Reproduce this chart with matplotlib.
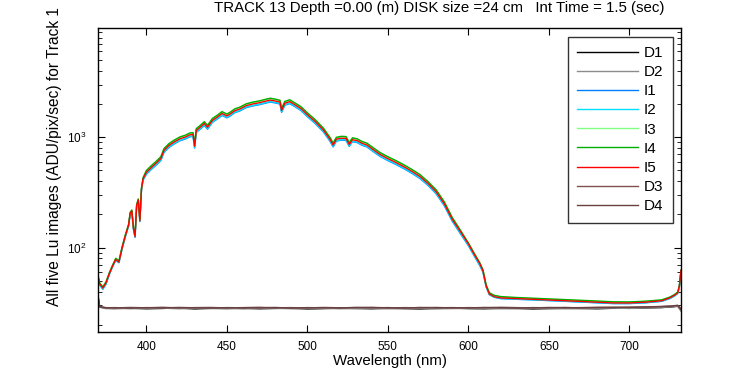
import matplotlib
matplotlib.use("Agg")
import matplotlib.pyplot as plt
from matplotlib.ticker import NullFormatter

plt.rcParams['font.family'] = ['Liberation Sans', 'DejaVu Sans']
plt.rcParams['mathtext.fontset'] = 'custom'
plt.rcParams['mathtext.rm'] = 'Liberation Sans'

title = "TRACK 13 Depth =0.00 (m) DISK size =24 cm   Int Time = 1.5 (sec)"
xlabel = "Wavelength (nm)"
ylabel = "All five Lu images (ADU/pix/sec) for Track 1"
xticks = [400, 450, 500, 550, 600, 650, 700]

wl = [370, 371, 373, 375, 377, 379, 381, 383, 385, 387,
      389, 390, 391, 392, 393, 394, 395, 396, 397, 398,
      400, 403, 406, 409, 411, 414, 417, 421, 424, 427,
      429, 430, 431, 434, 436, 438, 441, 444, 447, 450,
      452, 455, 458, 462, 466, 470, 474, 477, 480, 483,
      484, 486, 489, 492, 496, 500, 505, 510, 514, 516,
      518, 521, 524, 526, 528, 531, 534, 537, 541, 545,
      550, 555, 560, 565, 570, 575, 580, 585, 590, 595,
      600, 604, 607, 609, 611, 613, 616, 620, 630, 640,
      650, 660, 670, 680, 690, 700, 710, 720, 725, 728,
      730, 731, 732]

I1 = [54, 46, 42, 47, 57, 67, 77, 73, 98, 126,
      157, 202, 212, 147, 124, 236, 266, 172, 334, 410,
      461, 509, 557, 614, 730, 806, 864, 931, 960, 1008,
      1018, 797, 1104, 1200, 1277, 1181, 1363, 1459, 1574, 1498,
      1555, 1670, 1728, 1853, 1920, 1968, 2035, 2083, 2045, 1997,
      1680, 1949, 2016, 1901, 1747, 1536, 1325, 1114, 922, 816,
      922, 941, 936, 826, 912, 893, 845, 816, 739, 672,
      614, 566, 518, 470, 422, 365, 307, 240, 173, 134,
      104, 82, 69, 60, 44, 37.4, 35.5, 34.5, 34.0, 33.6,
      33.1, 32.6, 32.1, 31.6, 31.1, 31.1, 31.6, 32.6, 34.5, 36.5,
      38.5, 44.2, 61.2]

I2 = [54, 46, 42, 47, 57, 67, 77, 73, 99, 127,
      158, 203, 213, 148, 125, 238, 267, 173, 336, 412,
      466, 514, 563, 621, 737, 815, 873, 941, 970, 1019,
      1028, 805, 1116, 1213, 1290, 1193, 1377, 1474, 1591, 1513,
      1571, 1688, 1746, 1872, 1940, 1989, 2056, 2105, 2066, 2018,
      1698, 1969, 2037, 1921, 1765, 1552, 1339, 1125, 931, 825,
      931, 951, 946, 834, 922, 902, 854, 825, 747, 679,
      621, 572, 524, 475, 427, 369, 310, 243, 175, 136,
      105, 83, 70, 61, 44.5, 37.6, 35.6, 34.6, 34.1, 33.7,
      33.2, 32.7, 32.2, 31.7, 31.2, 31.2, 31.7, 32.7, 34.6, 36.6,
      38.6, 44.5, 61.5]

I3 = [56, 48, 44, 49, 59, 69, 79, 75, 101, 130,
      162, 208, 218, 152, 128, 244, 274, 178, 345, 427,
      494, 546, 597, 659, 783, 865, 927, 999, 1030, 1082,
      1092, 855, 1185, 1288, 1370, 1267, 1463, 1566, 1689, 1607,
      1669, 1792, 1854, 1988, 2060, 2112, 2184, 2235, 2194, 2142,
      1803, 2091, 2163, 2039, 1875, 1648, 1421, 1195, 989, 876,
      989, 1009, 1004, 886, 979, 958, 906, 876, 793, 721,
      659, 608, 556, 505, 453, 391, 330, 258, 185, 143,
      109, 86, 73, 63, 45.5, 38.5, 36.6, 35.6, 35.0, 34.5,
      34.0, 33.5, 33.0, 32.5, 32.0, 32.0, 32.5, 33.5, 35.5, 37.5,
      39.5, 45.3, 62.3]

I4 = [56, 48, 44, 49, 59, 69, 80, 76, 102, 131,
      163, 209, 219, 153, 129, 245, 276, 179, 347, 430,
      499, 551, 603, 666, 790, 874, 936, 1009, 1040, 1092,
      1102, 863, 1196, 1300, 1383, 1279, 1477, 1581, 1706, 1622,
      1685, 1810, 1872, 2007, 2080, 2132, 2205, 2257, 2215, 2163,
      1820, 2111, 2184, 2059, 1893, 1664, 1435, 1206, 998, 884,
      998, 1019, 1014, 894, 988, 967, 915, 884, 801, 728,
      666, 614, 562, 510, 458, 395, 333, 260, 187, 144,
      110, 87, 73, 63, 46, 39, 37, 36, 35.3, 34.8,
      34.3, 33.8, 33.3, 32.8, 32.3, 32.2, 32.7, 33.6, 35.6, 37.6,
      39.6, 45.5, 62.5]

I5 = [55, 47, 43, 48, 58, 68, 78, 74, 100, 128,
      160, 205, 215, 150, 126, 240, 270, 175, 340, 420,
      480, 530, 580, 640, 760, 840, 900, 970, 1000, 1050,
      1060, 830, 1150, 1250, 1330, 1230, 1420, 1520, 1640, 1560,
      1620, 1740, 1800, 1930, 2000, 2050, 2120, 2170, 2130, 2080,
      1750, 2030, 2100, 1980, 1820, 1600, 1380, 1160, 960, 850,
      960, 980, 975, 860, 950, 930, 880, 850, 770, 700,
      640, 590, 540, 490, 440, 380, 320, 250, 180, 140,
      108, 85, 72, 62, 45, 38, 36, 35, 34.5, 34,
      33.5, 33, 32.5, 32, 31.5, 31.5, 32, 33, 35, 37,
      39, 45, 62]

dwl = [370, 371, 375, 380, 390, 400, 410, 420, 430, 440,
       450, 460, 470, 480, 490, 500, 510, 520, 530, 540,
       550, 560, 570, 580, 590, 600, 610, 620, 630, 640,
       650, 660, 670, 680, 690, 700, 710, 720, 726, 730, 732]

D1 = [36, 29, 28.2, 28.0, 28.3, 27.9, 28.1, 28.4, 27.8, 28.2,
      28.0, 28.3, 27.9, 28.1, 28.2, 27.8, 28.0, 28.3, 28.1, 27.9,
      28.2, 28.0, 27.8, 28.1, 28.3, 28.0, 27.9, 28.2, 28.1, 27.8,
      28.0, 28.2, 28.1, 27.9, 28.2, 28.3, 28.4, 28.6, 29.0, 29.4, 27]
D2 = [35, 28.8, 28.0, 28.2, 27.9, 28.1, 28.3, 27.9, 28.1, 28.0,
      28.2, 27.8, 28.1, 28.3, 27.9, 28.1, 28.2, 27.9, 28.0, 28.2,
      27.9, 28.1, 28.2, 27.9, 28.0, 28.2, 28.1, 27.9, 28.0, 28.2,
      28.1, 27.9, 28.0, 28.2, 28.3, 28.1, 28.5, 28.7, 29.1, 29.5, 26.5]
D3 = [37, 29.3, 28.6, 28.4, 28.7, 28.5, 28.8, 28.4, 28.6, 28.7,
      28.4, 28.6, 28.8, 28.5, 28.6, 28.4, 28.7, 28.5, 28.6, 28.8,
      28.4, 28.6, 28.5, 28.7, 28.4, 28.6, 28.5, 28.8, 28.6, 28.4,
      28.7, 28.5, 28.6, 28.8, 28.7, 28.9, 29.0, 29.3, 29.6, 30.0, 28]
D4 = [36.5, 29.1, 28.4, 28.6, 28.3, 28.6, 28.4, 28.7, 28.5, 28.3,
      28.6, 28.5, 28.4, 28.7, 28.3, 28.6, 28.5, 28.4, 28.7, 28.5,
      28.6, 28.3, 28.7, 28.5, 28.6, 28.4, 28.7, 28.5, 28.3, 28.6,
      28.5, 28.7, 28.4, 28.6, 28.8, 28.7, 29.0, 29.2, 29.5, 29.9, 27.5]

series = [
    ("D1", dwl, D1, "#000000"),
    ("D2", dwl, D2, "#8c8c8c"),
    ("I1", wl, I1, "#0080ff"),
    ("I2", wl, I2, "#00e0ff"),
    ("I3", wl, I3, "#80ff80"),
    ("I4", wl, I4, "#00b000"),
    ("I5", wl, I5, "#ff0000"),
    ("D3", dwl, D3, "#804f4f"),
    ("D4", dwl, D4, "#6a4040"),
]

fig = plt.figure(figsize=(7.5, 3.75), dpi=100)
ax = fig.add_axes([98/750, 1-331.7/375, (681-98)/750, (331.7-28.3)/375])

for name, x, y, c in series:
    ax.plot(x, y, color=c, lw=1.0, label=name)

ax.set_yscale('log')
ax.set_xlim(370, 732)
ax.set_ylim(17.3, 9700)
ax.set_xticks(xticks)
ax.yaxis.set_minor_formatter(NullFormatter())
ax.tick_params(which='both', direction='in', top=True, right=True, labelsize=8.5)
ax.tick_params(which='major', length=5)
ax.tick_params(which='minor', length=3)
ax.tick_params(axis='x', pad=7)
ax.tick_params(axis='y', pad=8)
for s in ax.spines.values():
    s.set_linewidth(1.0)

fig.text(390/750, 1-361/375, xlabel, fontsize=10.8, ha='center', va='center')
fig.text(55/750, 1-157/375, ylabel, rotation=90, fontsize=11.2, ha='center', va='center')
fig.text(439/750, 1-8/375, title, fontsize=10.8, ha='center', va='center')

leg = ax.legend(loc='upper right', fontsize=11, frameon=True, fancybox=False,
                edgecolor='black', handlelength=4, labelspacing=0.34,
                borderaxespad=0.55, handletextpad=0.4, borderpad=0.6)
leg.get_frame().set_linewidth(1.0)

fig.savefig("out.png", dpi=100)
